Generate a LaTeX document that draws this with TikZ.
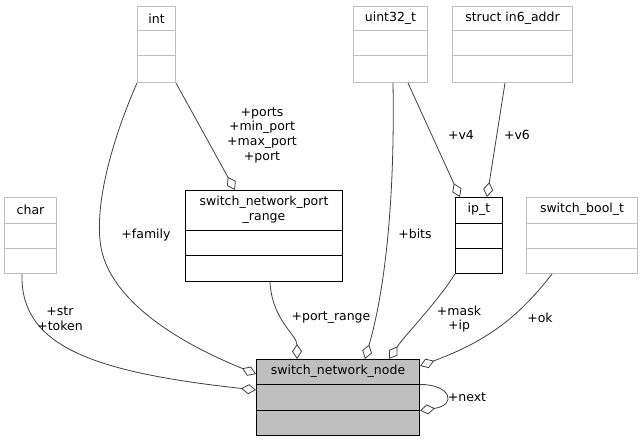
\documentclass[tikz,border=0pt]{standalone}
\usepackage{fontspec}
\setmainfont{DejaVu Sans}
\usepackage{tikz}
\usetikzlibrary{calc, positioning, arrows.meta}
\definecolor{edgegray}{RGB}{64,64,64}
\definecolor{boxgray}{RGB}{191,191,191}

\begin{document}
\begin{tikzpicture}[x=1pt, y=-1pt,
        font=\fontsize{12.5}{14.7}\selectfont,
        cls/.style={draw=boxgray, line width=1pt, inner sep=0pt, anchor=north west},
        used/.style={draw=black, line width=1pt, inner sep=0pt, anchor=north west},
        mainbox/.style={used, fill=boxgray},
        boxtitle/.style={inner sep=0pt, align=center},
        rel/.style={draw=edgegray, line width=0.8pt, -{Diamond[open, length=15pt, width=10pt]}},
        lbl/.style={inner sep=0pt, align=center}]
        \fill[white] (0,0) rectangle (642,441);
        \useasboundingbox (0,0) rectangle (642,441);

        % classes that are only referenced
        \node[cls, minimum width=38pt, minimum height=76pt] (int) at (137,6) {};
        \node[boxtitle] (inttitle) at ($(int.north)+(0,12.5)$) {int};
        \draw[boxgray, line width=1pt] ($(int.north west)+(0,25)$) -- ($(int.north east)+(0,25)$);
        \draw[boxgray, line width=1pt] ($(int.north west)+(0,50)$) -- ($(int.north east)+(0,50)$);

        \node[cls, minimum width=52pt, minimum height=76pt] (char) at (4,197) {};
        \node[boxtitle] (chartitle) at ($(char.north)+(0,12.5)$) {char};
        \draw[boxgray, line width=1pt] ($(char.north west)+(0,26)$) -- ($(char.north east)+(0,26)$);
        \draw[boxgray, line width=1pt] ($(char.north west)+(0,51)$) -- ($(char.north east)+(0,51)$);

        \node[cls, minimum width=74pt, minimum height=76pt] (uint) at (353,6) {};
        \node[boxtitle] (uinttitle) at ($(uint.north)+(0,12.5)$) {uint32\_t};
        \draw[boxgray, line width=1pt] ($(uint.north west)+(0,25)$) -- ($(uint.north east)+(0,25)$);
        \draw[boxgray, line width=1pt] ($(uint.north west)+(0,50)$) -- ($(uint.north east)+(0,50)$);

        \node[cls, minimum width=120pt, minimum height=76pt] (in6) at (452,6) {};
        \node[boxtitle] (in6title) at ($(in6.north)+(0,12.5)$) {struct in6\_addr};
        \draw[boxgray, line width=1pt] ($(in6.north west)+(0,25)$) -- ($(in6.north east)+(0,25)$);
        \draw[boxgray, line width=1pt] ($(in6.north west)+(0,50)$) -- ($(in6.north east)+(0,50)$);

        \node[cls, minimum width=111pt, minimum height=76pt] (bool) at (526,197) {};
        \node[boxtitle] (booltitle) at ($(bool.north)+(0,12.5)$) {switch\_bool\_t};
        \draw[boxgray, line width=1pt] ($(bool.north west)+(0,26)$) -- ($(bool.north east)+(0,26)$);
        \draw[boxgray, line width=1pt] ($(bool.north west)+(0,51)$) -- ($(bool.north east)+(0,51)$);

        % documented structs
        \node[used, minimum width=157pt, minimum height=91pt] (portrange) at (185,190) {};
        \node[boxtitle] (portrangetitle) at ($(portrange.north)+(0,20)$) {switch\_network\_port\\\_range};
        \draw[line width=1pt] ($(portrange.north west)+(0,40)$) -- ($(portrange.north east)+(0,40)$);
        \draw[line width=1pt] ($(portrange.north west)+(0,65)$) -- ($(portrange.north east)+(0,65)$);

        \node[used, minimum width=47pt, minimum height=76pt] (ipt) at (455,197) {};
        \node[boxtitle] (ipttitle) at ($(ipt.north)+(0,12.5)$) {ip\_t};
        \draw[line width=1pt] ($(ipt.north west)+(0,26)$) -- ($(ipt.north east)+(0,26)$);
        \draw[line width=1pt] ($(ipt.north west)+(0,51)$) -- ($(ipt.north east)+(0,51)$);

        \node[mainbox, minimum width=163pt, minimum height=76pt] (netnode) at (256,359) {};
        \node[boxtitle] (netnodetitle) at ($(netnode.north)+(0,12.5)$) {switch\_network\_node};
        \draw[line width=1pt] ($(netnode.north west)+(0,25)$) -- ($(netnode.north east)+(0,25)$);
        \draw[line width=1pt] ($(netnode.north west)+(0,51)$) -- ($(netnode.north east)+(0,51)$);

        % relations
        \draw[rel] (int.south east) -- ($(portrange.north west)+(50,0)$);
        \draw[rel] (int.south west) .. controls (112,140) and (96,200) .. (100,240)
            .. controls (104,290) and (160,335) .. ($(netnode.north west)+(0,15)$);
        \draw[rel] ($(char.south west)+(18,0)$) .. controls (20,345) and (90,372) .. ($(netnode.north west)+(0,31)$);
        \draw[rel] ($(portrange.south west)+(85,0)$) .. controls (272,320) and (297,335) .. ($(netnode.north west)+(41,0)$);
        \draw[rel] ($(uint.south west)+(40,0)$) .. controls (395,200) and (385,290) .. ($(netnode.north west)+(109,0)$);
        \draw[rel] ($(uint.south west)+(55,0)$) -- ($(ipt.north west)+(5,0)$);
        \draw[rel] ($(in6.south west)+(53,0)$) -- ($(ipt.north west)+(32,0)$);
        \draw[rel] (ipt.south west) .. controls (435,305) and (405,335) .. ($(netnode.north west)+(133,0)$);
        \draw[rel] ($(bool.south west)+(26,0)$) .. controls (520,315) and (490,340) .. ($(netnode.north east)+(0,7)$);
        \draw[rel] ($(netnode.east)+(0,-13)$) .. controls (450,384) and (458,405) .. ($(netnode.east)+(0,13)$);

        % labels
        \node[lbl] (lports) at (262,135) {+ports\\+min\_port\\+max\_port\\+port};
        \node[lbl] (lfamily) at (146,235) {+family};
        \node[lbl] (lstr) at (60,319) {+str\\+token};
        \node[lbl] (lportrange) at (331,318) {+port\_range};
        \node[lbl] (lbits) at (415,234) {+bits};
        \node[lbl] (lv4) at (461,135) {+v4};
        \node[lbl] (lv6) at (517,135) {+v6};
        \node[lbl] (lmask) at (459,319) {+mask\\+ip};
        \node[lbl] (lok) at (540,318) {+ok};
        \node[lbl] (lnext) at (467,397) {+next};
    \end{tikzpicture}
\end{document}
